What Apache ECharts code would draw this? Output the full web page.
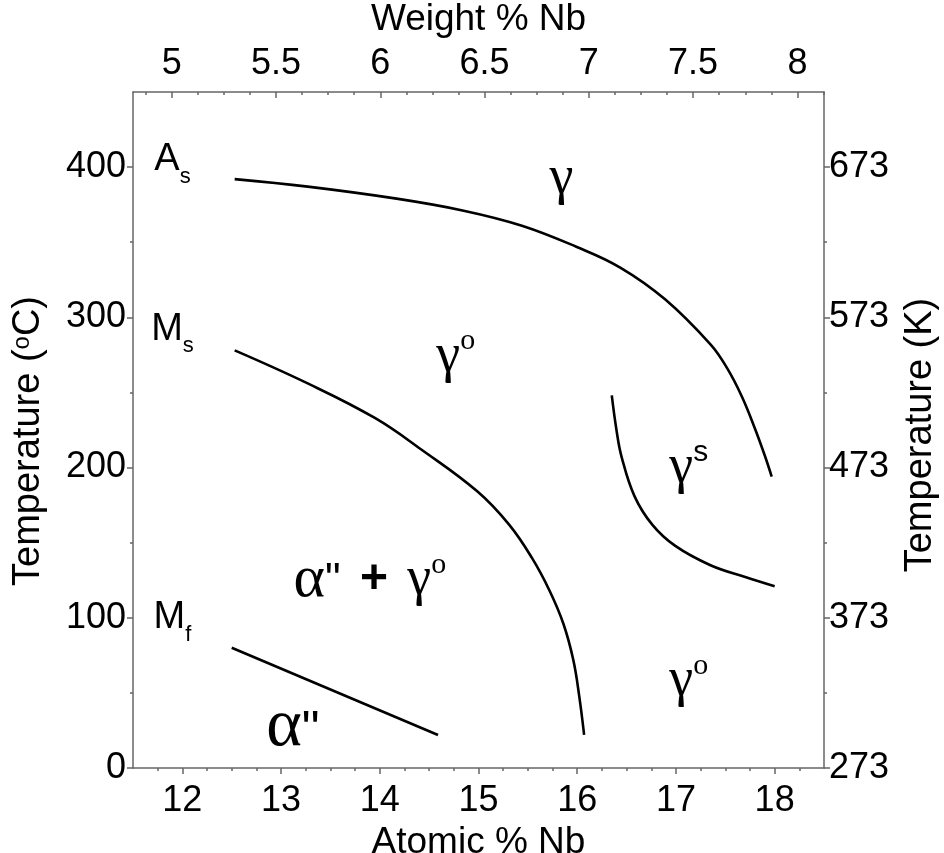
<!DOCTYPE html>
<html>
<head>
<meta charset="utf-8">
<script src="https://cdn.jsdelivr.net/npm/echarts@6/dist/echarts.min.js"></script>
<style>
html,body{margin:0;padding:0;background:#fff;}
#chart{width:944px;height:853px;}
</style>
</head>
<body>
<div id="chart"></div>
<script>
// ---- data (atomic % Nb, temperature °C) ----
var asCurve = [[12.53,392],[13.27,387],[14.17,379],[14.85,371],[15.44,361],[15.99,347],[16.44,333],[16.89,312],[17.35,282],[17.52,266],[17.67,247],[17.80,226],[17.90,208],[17.97,194]];
var msCurve = [[12.53,278],[13.27,256],[13.95,233],[14.42,212],[14.99,184],[15.31,162],[15.54,140],[15.72,118],[15.86,96],[15.96,72],[16.02,48],[16.07,22]];
var gsCurve = [[16.35,248],[16.40,224],[16.45,207],[16.58,181],[16.76,162],[16.99,148],[17.35,135],[17.71,127],[18.00,121]];
var mfLine  = [[12.50,80],[14.59,22]];

// ---- axes / tick labels ----
var atomicTicks = [12,13,14,15,16,17,18];
var weightTicks = [5,5.5,6,6.5,7,7.5,8];
var celsiusTicks = [0,100,200,300,400];
var kelvinOffset = 273;

// region labels: [atomic %, temperature, text]
var regionLabels = [
  [11.9, 405, '{sa|A}{sb|s}'],
  [11.9, 292, '{sa|M}{sb|s}'],
  [11.9, 100, '{sa|M}{sb|f}'],
  [15.84, 392, '{g|γ}'],
  [14.77, 274, '{g|γ}{so|o}'],
  [17.13, 200, '{g|γ}{ss|s}'],
  [13.9, 125, '{ga|α}{q|"}{p| + }{g|γ}{so|o}'],
  [17.13, 58, '{g|γ}{so|o}'],
  [13.12, 27, '{gb|α}{qb|"}']
];

var SANS = "'Liberation Sans', Arial, sans-serif";
var SERIF = "'Liberation Serif', 'Times New Roman', serif";
var AX = '#666';

function minorList(a, b, step, majors) {
  var out = [];
  for (var v = a; v <= b + 1e-9; v += step) {
    var r = Math.round(v * 1000) / 1000;
    if (majors.indexOf(r) < 0) out.push(r);
  }
  return out;
}

var chart = echarts.init(document.getElementById('chart'));
var lineStyle = {color:'#000', width:2.6};
function curve(d){
  return {type:'line', data:d, xAxisIndex:0, yAxisIndex:0, smooth:0.4, showSymbol:false, symbol:'none', lineStyle:lineStyle, silent:true, animation:false};
}
function rt(fam, size, lh, va, extra){
  var o = {fontFamily:fam, fontSize:size, lineHeight:lh, color:'#000', textBorderWidth:0, opacity:1};
  if (va) o.verticalAlign = va;
  if (extra) for (var k in extra) o[k] = extra[k];
  return o;
}
var atMin = 11.5, atMax = 18.5, wtMin = 4.8145, wtMax = 8.1275;

chart.setOption({
  animation:false,
  grid:{left:133, right:120, top:92, bottom:85, containLabel:false, outerBoundsMode:'none'},
  xAxis:[
    {type:'value', position:'bottom', min:atMin, max:atMax,
     name:'Atomic % Nb', nameLocation:'middle', nameGap:38,
     nameTextStyle:{fontFamily:SANS, fontSize:37, color:'#000'},
     axisLine:{show:true, onZero:false, lineStyle:{color:AX, width:1.5}},
     axisTick:{show:true, inside:false, length:6, customValues:atomicTicks, lineStyle:{color:AX, width:1.5}},
     axisLabel:{show:true, customValues:atomicTicks, margin:15, fontFamily:SANS, fontSize:36, color:'#000'},
     splitLine:{show:false}},
    {type:'value', position:'bottom', min:atMin, max:atMax,
     axisLine:{show:false, onZero:false},
     axisTick:{show:true, inside:false, length:3, customValues:minorList(11.75,18.25,0.25,atomicTicks), lineStyle:{color:AX, width:1.5}},
     axisLabel:{show:false}, splitLine:{show:false}},
    {type:'value', position:'top', min:wtMin, max:wtMax,
     name:'Weight % Nb', nameLocation:'middle', nameGap:54,
     nameTextStyle:{fontFamily:SANS, fontSize:37, color:'#000'},
     axisLine:{show:true, onZero:false, lineStyle:{color:AX, width:1.5}},
     axisTick:{show:true, inside:true, length:6, customValues:weightTicks, lineStyle:{color:AX, width:1.5}},
     axisLabel:{show:true, customValues:weightTicks, margin:10, fontFamily:SANS, fontSize:36, color:'#000'},
     splitLine:{show:false}},
    {type:'value', position:'top', min:wtMin, max:wtMax,
     axisLine:{show:false, onZero:false},
     axisTick:{show:true, inside:true, length:3, customValues:minorList(4.875,8.125,0.125,weightTicks), lineStyle:{color:AX, width:1.5}},
     axisLabel:{show:false}, splitLine:{show:false}}
  ],
  yAxis:[
    {type:'value', position:'left', min:0, max:450, interval:100,
     name:'Temperature ({s|o}C)', nameLocation:'middle', nameGap:85, nameRotate:90,
     nameTextStyle:{fontFamily:SANS, fontSize:38, color:'#000', padding:[0,22,0,0],
       rich:{s:{fontFamily:SANS, fontSize:24, verticalAlign:'top', lineHeight:20, color:'#000'}}},
     axisLine:{show:true, onZero:false, lineStyle:{color:AX, width:1.5}},
     axisTick:{show:true, inside:false, length:6, customValues:celsiusTicks, lineStyle:{color:AX, width:1.5}},
     minorTick:{show:true, splitNumber:2, length:3, lineStyle:{color:AX, width:1.5}},
     axisLabel:{show:true, customValues:celsiusTicks, margin:7, fontFamily:SANS, fontSize:36, color:'#000'},
     splitLine:{show:false}},
    {type:'value', position:'right', min:0, max:450, interval:100,
     name:'Temperature (K)', nameLocation:'middle', nameGap:78, nameRotate:90,
     nameTextStyle:{fontFamily:SANS, fontSize:38, color:'#000', padding:[0,10,0,0]},
     axisLine:{show:true, onZero:false, lineStyle:{color:AX, width:1.5}},
     axisTick:{show:true, inside:false, length:6, customValues:celsiusTicks, lineStyle:{color:AX, width:1.5}},
     minorTick:{show:true, splitNumber:2, length:3, lineStyle:{color:AX, width:1.5}},
     axisLabel:{show:true, customValues:celsiusTicks, margin:5, fontFamily:SANS, fontSize:36, color:'#000',
       formatter:function(v){ return String(v + kelvinOffset); }},
     splitLine:{show:false}}
  ],
  series:[
    curve(asCurve), curve(msCurve), curve(gsCurve), curve(mfLine),
    {type:'scatter', xAxisIndex:0, yAxisIndex:0, symbolSize:0, silent:true,
     itemStyle:{opacity:1},
     data:regionLabels.map(function(r){ return {value:[r[0], r[1]], name:r[2]}; }),
     label:{show:true, position:'inside', color:'#000', textBorderWidth:0, opacity:1,
       formatter:function(p){ return p.name; },
       rich:{
         sa:rt(SANS, 38, 56),
         sb:rt(SANS, 22, 20, 'bottom'),
         g:rt(SERIF, 54, 60),
         ga:rt(SERIF, 60, 60),
         gb:rt(SERIF, 68, 64),
         so:rt(SERIF, 30, 26, 'top'),
         ss:rt(SANS, 30, 26, 'top'),
         q:rt(SANS, 44, 44, 'top', {padding:[10,0,0,0]}),
         qb:rt(SANS, 50, 48, 'top', {padding:[12,0,0,0]}),
         p:rt(SANS, 48, 50, null, {fontWeight:'bold', padding:[0,6,0,6]})
       }}
    }
  ]
});
</script>
</body>
</html>
